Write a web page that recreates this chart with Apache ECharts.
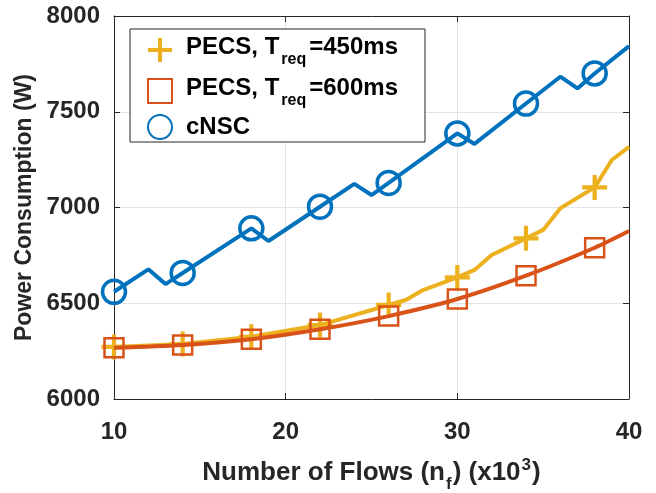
<!DOCTYPE html>
<html><head><meta charset="utf-8">
<script src="https://cdn.jsdelivr.net/npm/echarts@6/dist/echarts.min.js"></script>
<style>html,body{margin:0;padding:0;background:#fff}#c{width:656px;height:493px}</style>
</head><body><div id="c"></div>
<script>
// ---- data ----
const xTicks = [10, 20, 30, 40];
const yTicks = [6000, 6500, 7000, 7500, 8000];
const markerX = [10, 14, 18, 22, 26, 30, 34, 38];

const pecs450X = [10, 14, 18, 22, 26, 27, 28, 30, 31, 32, 34, 35, 36, 38, 39, 40];
const pecs450Y = [6272, 6287, 6325, 6386, 6491, 6517, 6569, 6635, 6674, 6752, 6839, 6883, 6996, 7105, 7248, 7317];

const pecs600X = [10, 14, 18, 22, 26, 30, 34, 38, 40];
const pecs600Y = [6267, 6282, 6312, 6364, 6433, 6522, 6644, 6790, 6877];

const cnscX = [10, 12, 13, 14, 18, 19, 22, 24, 25, 26, 30, 31, 34, 36, 37, 38, 40];
const cnscY = [6560, 6677, 6600, 6658, 6891, 6825, 7004, 7123, 7065, 7128, 7387, 7332, 7543, 7683, 7622, 7700, 7843];

const seriesNames = ['PECS450', 'PECS600', 'cNSC'];
const legendLabels = {
  PECS450: '{a|PECS, T}{sub|req}{a|=450ms}',
  PECS600: '{a|PECS, T}{sub|req}{a|=600ms}',
  cNSC: '{b|cNSC}'
};

const FONT = "'Liberation Sans', Arial, Helvetica, sans-serif";
const AX = '#262626';
const C_BLUE = '#0072BD', C_ORANGE = '#D95319', C_YELLOW = '#EDB120';
const PLUS = 'path://M-1.7,-10H1.7V-1.7H10V1.7H1.7V10H-1.7V1.7H-10V-1.7H-1.7Z';

function build(xs, ys) {
  return xs.map((x, i) => markerX.includes(x) ? { value: [x, ys[i]] } : { value: [x, ys[i]], symbol: 'none' });
}

const chart = echarts.init(document.getElementById('c'), null, { renderer: 'canvas' });
const axisCommon = {
  type: 'value',
  axisLine: { show: true, onZero: false, lineStyle: { color: AX, width: 1 } },
  axisTick: { show: true, inside: true, length: 6, lineStyle: { color: AX, width: 1 } },
};
const tickFmt = v => String(v);
chart.setOption({
  animation: false,
  backgroundColor: '#fff',
  grid: { left: 114, right: 27, top: 16, bottom: 94, containLabel: false, outerBoundsMode: 'none' },
  xAxis: [
    Object.assign({}, axisCommon, {
      min: xTicks[0], max: xTicks[xTicks.length - 1], interval: 10, position: 'bottom',
      axisLabel: { color: AX, fontSize: 24, fontWeight: 'bold', fontFamily: FONT, margin: 21, formatter: tickFmt },
      splitLine: { show: true, lineStyle: { color: '#e3e3e3', width: 1 } },
      name: '{a|Number of Flows (n}{sub|f}{a|) (x10}{sup|3}{a|)}',
      nameLocation: 'middle', nameGap: 58,
      nameTextStyle: {
        color: AX, fontFamily: FONT, fontWeight: 'bold',
        rich: {
          a: { fontSize: 26, fontWeight: 'bold', fontFamily: FONT, color: AX, lineHeight: 32 },
          sub: { fontSize: 17, fontWeight: 'bold', fontFamily: FONT, color: AX, lineHeight: 17, padding: [22, 1, 0, 1] },
          sup: { fontSize: 17, fontWeight: 'bold', fontFamily: FONT, color: AX, lineHeight: 17, padding: [0, 1, 16, 1] }
        }
      }
    }),
    Object.assign({}, axisCommon, {
      min: xTicks[0], max: xTicks[xTicks.length - 1], interval: 10, position: 'top',
      axisLabel: { show: false }, splitLine: { show: false }
    })
  ],
  yAxis: [
    Object.assign({}, axisCommon, {
      min: yTicks[0], max: yTicks[yTicks.length - 1], interval: 500, position: 'left',
      axisLabel: { color: AX, fontSize: 24, fontWeight: 'bold', fontFamily: FONT, margin: 14, formatter: tickFmt },
      splitLine: { show: true, lineStyle: { color: '#e3e3e3', width: 1 } },
      name: 'Power Consumption (W)', nameLocation: 'middle', nameGap: 67,
      nameTextStyle: { color: AX, fontSize: 23, fontWeight: 'bold', fontFamily: FONT }
    }),
    Object.assign({}, axisCommon, {
      min: yTicks[0], max: yTicks[yTicks.length - 1], interval: 500, position: 'right',
      axisLabel: { show: false }, splitLine: { show: false }
    })
  ],
  legend: {
    orient: 'vertical', left: 130, top: 29,
    data: [
      { name: 'PECS450', icon: PLUS },
      { name: 'PECS600', icon: 'rect' },
      { name: 'cNSC', icon: 'circle' }
    ],
    itemWidth: 24, itemHeight: 24, itemGap: 5,
    padding: [3, 27, 2, 17],
    backgroundColor: '#fff', borderColor: AX, borderWidth: 1, borderRadius: 0,
    formatter: name => legendLabels[name],
    textStyle: {
      color: '#000', fontFamily: FONT, fontWeight: 'bold', padding: [0, 0, 0, 9],
      rich: {
        a: { fontSize: 24, fontWeight: 'bold', fontFamily: FONT, color: '#000', lineHeight: 30, padding: [0, 0, 6, 0] },
        b: { fontSize: 24, fontWeight: 'bold', fontFamily: FONT, color: '#000', lineHeight: 30 },
        sub: { fontSize: 16, fontWeight: 'bold', fontFamily: FONT, color: '#000', lineHeight: 16, padding: [20, 3, 0, 2] }
      }
    }
  },
  series: [
    {
      name: seriesNames[0], type: 'line', data: build(pecs450X, pecs450Y),
      symbol: PLUS, symbolSize: 25, showAllSymbol: true,
      lineStyle: { color: C_YELLOW, width: 4 },
      itemStyle: { color: C_YELLOW, borderWidth: 0 }, z: 2
    },
    {
      name: seriesNames[1], type: 'line', data: build(pecs600X, pecs600Y), smooth: 0.3,
      symbol: 'rect', symbolSize: 19, showAllSymbol: true,
      lineStyle: { color: C_ORANGE, width: 4 },
      itemStyle: { color: 'rgba(0,0,0,0)', borderColor: C_ORANGE, borderWidth: 2.5 }, z: 3
    },
    {
      name: seriesNames[2], type: 'line', data: build(cnscX, cnscY),
      symbol: 'circle', symbolSize: 23, showAllSymbol: true,
      lineStyle: { color: C_BLUE, width: 4 },
      itemStyle: { color: 'rgba(0,0,0,0)', borderColor: C_BLUE, borderWidth: 3.5 }, z: 4
    }
  ]
});
</script></body></html>
